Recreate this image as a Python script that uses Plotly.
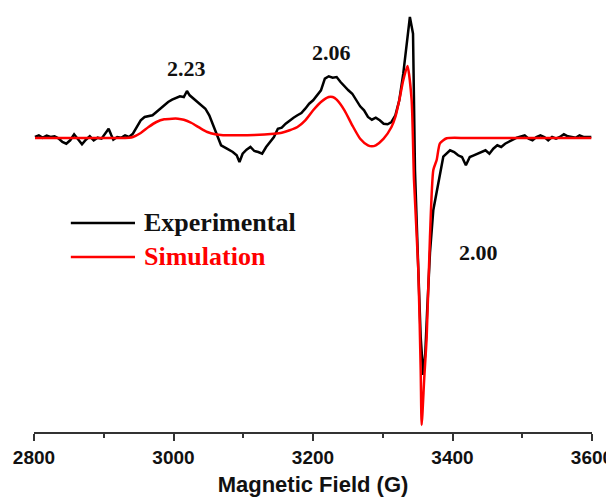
import plotly.graph_objects as go

# Experimental spectrum (field in G, intensity in arbitrary units)
exp_field = [2801.4, 2807, 2812.6, 2818.2, 2823.8, 2829.4, 2835, 2840.7, 2846.3, 2851.9,
             2857.5, 2863.1, 2868.8, 2874.4, 2880, 2885.6, 2891.2, 2896.8, 2902.5, 2907,
             2910.9, 2913.7, 2919.3, 2924.9, 2930.5, 2936.2, 2941.8, 2947.4, 2953, 2958.6,
             2964.2, 2969.9, 2975.5, 2981.1, 2986.7, 2992.3, 2998, 3003.6, 3009.2, 3014.8,
             3019.3, 3023.2, 3028.8, 3034.5, 3040.1, 3045.7, 3051.3, 3056.9, 3062.5, 3068.2,
             3076.6, 3085, 3090.6, 3094.6, 3099.1, 3104.7, 3110.3, 3115.9, 3121.5, 3127.1,
             3132.8, 3138.4, 3144, 3149.6, 3155.2, 3160.8, 3166.5, 3172.1, 3177.7, 3183.3,
             3188.9, 3194.5, 3200.2, 3205.8, 3211.4, 3217, 3222.6, 3228.2, 3233.9, 3239.5,
             3245.1, 3250.7, 3256.3, 3262, 3267.6, 3273.2, 3278.8, 3284.4, 3290, 3295.7,
             3301.3, 3306.9, 3312.5, 3318.1, 3323.7, 3329.4, 3335, 3338.9, 3343.4, 3346.2,
             3351, 3354.4, 3358.1, 3361, 3363.5, 3367.7, 3372.5, 3379.6, 3386.8, 3396.5, 3402.4,
             3408, 3413.6, 3419.2, 3424.8, 3430.5, 3436, 3441.7, 3447.3, 3452.9, 3458.5,
             3464.2, 3469.8, 3475.4, 3481, 3486.6, 3492.2, 3497.9, 3503.5, 3509.1, 3514.7,
             3520.3, 3526, 3531.6, 3537.2, 3542.8, 3548.4, 3554, 3559.7, 3565.3, 3570.9,
             3576.5, 3582.1, 3587.7, 3599]
exp_signal = [0.01, 0.027, 0.003, 0.023, 0.01, 0.017, -0.003, -0.04, -0.057, -0.023,
              0.037, -0.007, -0.063, -0.017, 0.017, -0.023, 0.003, -0.007, 0.043, 0.093,
              0.027, -0.017, 0.01, 0.003, 0.027, 0.01, 0.043, 0.11, 0.177, 0.21,
              0.217, 0.227, 0.26, 0.293, 0.327, 0.36, 0.383, 0.403, 0.417, 0.41,
              0.47, 0.427, 0.393, 0.36, 0.327, 0.293, 0.227, 0.127, 0.01, -0.073,
              -0.107, -0.14, -0.173, -0.24, -0.157, -0.117, -0.09, -0.13, -0.14, -0.157,
              -0.09, -0.04, 0.01, 0.093, 0.103, 0.143, 0.177, 0.203, 0.227, 0.25,
              0.293, 0.343, 0.377, 0.427, 0.477, 0.593, 0.617, 0.603, 0.61, 0.56,
              0.517, 0.477, 0.443, 0.377, 0.317, 0.277, 0.21, 0.183, 0.203, 0.177,
              0.143, 0.137, 0.16, 0.227, 0.377, 0.643, 0.977, 1.21, 1.043, -0.32,
              -1.32, -1.99, -2.37, -2.15, -1.75, -1.15, -0.72, -0.45, -0.187, -0.123, -0.14,
              -0.173, -0.19, -0.273, -0.19, -0.173, -0.157, -0.14, -0.123, -0.157, -0.107,
              -0.073, -0.09, -0.057, -0.04, -0.017, 0.003, 0.017, 0.027, -0.007, -0.023,
              0.01, 0.027, 0.01, -0.023, 0.01, -0.007, 0.01, 0.037, 0.017, 0.01,
              0.003, 0.027, 0.01, 0.01]

# Simulated spectrum
sim_field = [2801.4, 2863.1, 2919.3, 2936.2, 2941.8, 2953, 2964.2, 2975.5, 2986.7, 2998,
             3006.4, 3014.8, 3026, 3037.3, 3048.5, 3059.7, 3071, 3087.8, 3115.9, 3144,
             3155.2, 3166.5, 3177.7, 3188.9, 3200.2, 3211.4, 3222.6, 3228.2, 3233.9, 3245.1,
             3256.3, 3267.6, 3278.8, 3284.4, 3290, 3301.3, 3312.5, 3318.1, 3323.7, 3329.4,
             3335.5, 3341.4, 3344.8, 3351, 3354.4, 3355.8, 3359.5, 3363, 3367.7, 3372.5,
             3377.3, 3382, 3391.7, 3420, 3500, 3599]
sim_signal = [0.0, 0.0, 0.0, 0.003, 0.01, 0.05, 0.11, 0.16, 0.187, 0.193,
              0.193, 0.183, 0.15, 0.103, 0.06, 0.037, 0.027, 0.027, 0.03, 0.043,
              0.053, 0.077, 0.11, 0.177, 0.277, 0.36, 0.41, 0.41, 0.383, 0.277,
              0.127, -0.007, -0.073, -0.083, -0.073, -0.007, 0.11, 0.21, 0.377, 0.577,
              0.72, 0.38, -0.42, -1.32, -2.32, -2.87, -2.4, -1.99, -0.99, -0.32,
              -0.22, -0.053, -0.003, 0.0, 0.0, 0.0]

tick_vals = [2800, 3000, 3200, 3400, 3600]
tick_text = ["2800", "3000", "3200", "3400", "3600"]

g_labels = ["2.23", "2.06", "2.00"]
g_label_field = [3019, 3227, 3437]
g_label_signal = [0.70, 0.86, -1.14]

fig = go.Figure()
fig.add_trace(go.Scatter(x=exp_field, y=exp_signal, mode="lines",
                         line=dict(color="black", width=2.5), name="Experimental",
                         showlegend=False))
fig.add_trace(go.Scatter(x=sim_field, y=sim_signal, mode="lines",
                         line=dict(color="#ff0000", width=2.5, shape="spline", smoothing=0.6),
                         name="Simulation", showlegend=False))

for t, gx, gy in zip(g_labels, g_label_field, g_label_signal):
    fig.add_annotation(x=gx, y=gy, text=t, showarrow=False,
                       font=dict(family="Liberation Serif", size=22, color="#111111", weight="bold"))

# legend keys (paper coordinates)
legend_items = [("Experimental", "black", 0.493), ("Simulation", "#ff0000", 0.413)]
for label, col, ly in legend_items:
    fig.add_shape(type="line", xref="paper", yref="paper", x0=0.066, x1=0.181, y0=ly, y1=ly,
                  line=dict(color=col, width=2.5))
    fig.add_annotation(xref="paper", yref="paper", x=0.193, y=ly, xanchor="left", yanchor="middle",
                       text=label, showarrow=False,
                       font=dict(family="Liberation Serif", size=26,
                                 color=("#111111" if col == "black" else col), weight="bold"))

# page body has an 8px default margin, so the figure is sized to fit the window
fig.update_layout(
    width=606, height=489,
    margin=dict(l=26, r=22, t=0, b=65),
    plot_bgcolor="white", paper_bgcolor="white",
    xaxis=dict(range=[2800, 3600], tickvals=tick_vals, ticktext=tick_text,
               showline=True, linecolor="#333333", linewidth=2,
               ticks="outside", ticklen=7, tickwidth=2, tickcolor="#333333",
               minor=dict(dtick=100, ticks="outside", ticklen=4, tickwidth=2, tickcolor="#333333"),
               showgrid=False, zeroline=False,
               tickfont=dict(family="Liberation Sans", size=19, color="#111111", weight="bold"),
               title=dict(text="Magnetic Field (G)", standoff=12,
                          font=dict(family="Liberation Sans", size=22, color="#111111", weight="bold"))),
    yaxis=dict(range=[-2.94, 1.30], visible=False),
)

fig.write_html("out.html")
